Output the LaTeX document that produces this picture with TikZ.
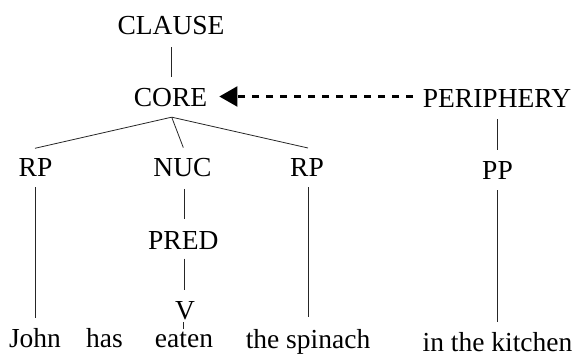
\documentclass[tikz,border=0pt]{standalone}
\usepackage{fontspec}
\setmainfont{Liberation Serif}
\usetikzlibrary{arrows.meta,calc}
\begin{document}
\begin{tikzpicture}[x=1pt,y=-1pt,
  lab/.style={inner sep=0pt,anchor=base,font=\fontsize{27.5}{33}\selectfont},
  branch/.style={line width=0.8pt,draw=black!85},
  dashedarrow/.style={line width=2.2pt,dash pattern=on 7.5pt off 6.5pt,-{Triangle[length=18pt,width=20pt]}}]
\useasboundingbox (0,0) rectangle (577,355);
\node[lab] (clause) at (171,35) {CLAUSE};
\node[lab] (core) at (170.5,107) {CORE};
\node[lab] (peri) at (497,108) {PERIPHERY};
\node[lab] (rp1) at (35.5,177) {RP};
\node[lab] (nuc) at (182.5,177) {NUC};
\node[lab] (rp2) at (307,177) {RP};
\node[lab] (pp) at (497.5,180) {PP};
\node[lab] (pred) at (183.3,249) {PRED};
\node[lab] (v) at (185,319) {V};
\node[lab] (john) at (35,347) {John};
\node[lab] (has) at (104.5,347) {has};
\node[lab] (eaten) at (184,347) {eaten};
\node[lab] (spinach) at (308,348) {the spinach};
\node[lab] (kitchen) at (497.5,351) {in the kitchen};
% tree branches
\draw[branch] ($(clause.south)+(0.7pt,-11.7pt)$) -- ($(core.north)+(1.2pt,11.8pt)$);
\coordinate (apex) at ($(core.south)+(1.2pt,-9.7pt)$);
\draw[branch] (apex) -- ($(rp1.north)+(-0.5pt,10.5pt)$);
\draw[branch] (apex) -- ($(nuc.north)+(0.8pt,11pt)$);
\draw[branch] (apex) -- ($(rp2.north)+(1pt,10.8pt)$);
\draw[branch] ($(rp1.south)+(-0.5pt,-10pt)$) -- ($(rp1.south |- john.north)+(-0.5pt,10.2pt)$);
\draw[branch] ($(nuc.south)+(1.5pt,-11.3pt)$) -- ($(pred.north)+(0.7pt,11.5pt)$);
\draw[branch] ($(pred.south)+(0.7pt,-9.3pt)$) -- ($(v.north)+(-1pt,10.8pt)$);
\draw[branch] ($(v.south)+(-1.7pt,-2.7pt)$) -- ($(v.south)+(-1.7pt,-9pt)$);
\draw[branch] ($(rp2.south)+(1.3pt,-10pt)$) -- ($(rp2.south |- spinach.north)+(1.3pt,11.7pt)$);
\draw[branch] ($(peri.south)+(0.3pt,-11pt)$) -- ($(pp.north)+(-0.2pt,11.8pt)$);
\draw[branch] ($(pp.south)+(-0.2pt,-10pt)$) -- ($(pp.south |- kitchen.north)+(-0.2pt,10pt)$);
% dashed arrow
\draw[dashedarrow] ($(peri.west)+(-9.5pt,2.5pt)$) -- ($(peri.west -| core.east)+(12pt,2.5pt)$);
\end{tikzpicture}
\end{document}
